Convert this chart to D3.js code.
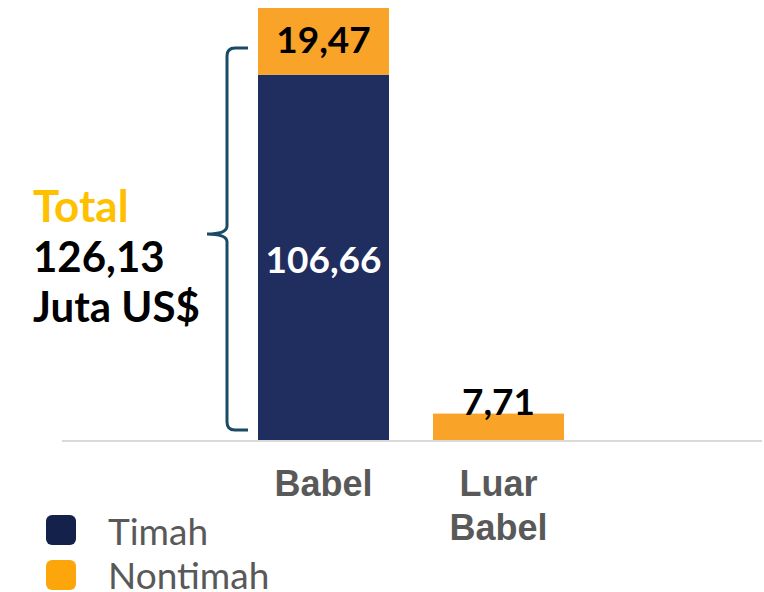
<!DOCTYPE html>
<html><head><meta charset="utf-8">
<script src="https://cdn.jsdelivr.net/npm/d3@7"></script>
<style>body{margin:0;background:#fff}svg{display:block}</style>
</head><body>
<svg id="c" width="764" height="592"></svg>
<script>
const categories = ["Babel", "Luar Babel"];
const categoryLines = [["Babel"], ["Luar", "Babel"]];
const timah = [106.66, 0];
const nontimah = [19.47, 7.71];
const timahLabels = ["106,66", ""];
const nontimahLabels = ["19,47", "7,71"];
const totalLabel = ["Total", "126,13", "Juta US$"];
const legendNames = ["Timah", "Nontimah"];

const svg = d3.select("#c");
const C = {timah: "#1f2d5f", non: "#f9a328", legTimah: "#13214b", legNon: "#fca60b"};

const x = d3.scaleBand().domain(categories).range([236, 586])
  .paddingInner(44/175).paddingOuter(22/175);
const total0 = timah[0] + nontimah[0];
const y = d3.scaleLinear().domain([0, total0]).range([440, 8]);

// baseline
svg.append("line").attr("x1", 62).attr("x2", 762).attr("y1", y(0) + 1).attr("y2", y(0) + 1)
  .attr("stroke", "#d9d9d9").attr("stroke-width", 2);

categories.forEach((c, i) => {
  const x0 = x(c), w = x.bandwidth();
  if (timah[i] > 0) {
    svg.append("rect").attr("x", x0).attr("width", w)
      .attr("y", y(timah[i])).attr("height", y(0) - y(timah[i])).attr("fill", C.timah);
  }
  svg.append("rect").attr("x", x0).attr("width", w)
    .attr("y", y(timah[i] + nontimah[i])).attr("height", y(timah[i]) - y(timah[i] + nontimah[i]))
    .attr("fill", C.non);
  if (timahLabels[i]) {
    svg.append("text").attr("x", x0 + w/2).attr("y", y(timah[i]/2) + 16)
      .attr("text-anchor", "middle").attr("font-family", "Lato").attr("font-weight", "bold")
      .attr("font-size", 37).attr("fill", "#fff").text(timahLabels[i]);
  }
  const topY = y(timah[i] + nontimah[i]);
  const inside = timah[i] > 0;
  svg.append("text").attr("x", x0 + w/2)
    .attr("y", inside ? (topY + y(timah[i]))/2 + 12 : topY + 1)
    .attr("text-anchor", "middle").attr("font-family", "Lato").attr("font-weight", "bold")
    .attr("font-size", 37).attr("fill", "#000").text(nontimahLabels[i]);
  categoryLines[i].forEach((t, k) => {
    svg.append("text").attr("x", x0 + w/2).attr("y", 496 + k*44)
      .attr("text-anchor", "middle").attr("font-family", "Liberation Sans, Arial").attr("font-weight", "bold")
      .attr("font-size", 36).attr("fill", "#595959").text(t);
  });
});

// brace
const bt = y(total0) + 40, bb = y(0) - 10, bm = (bt + bb)/2 - 5;
const xr = 248, xv = 227, xp = 207;
svg.append("path")
  .attr("d", `M${xr},${bt} L${xv+8},${bt} Q${xv},${bt} ${xv},${bt+8} L${xv},${bm-8} Q${xv},${bm} ${xp},${bm}
    Q${xv},${bm} ${xv},${bm+8} L${xv},${bb-8} Q${xv},${bb} ${xv+8},${bb} L${xr},${bb}`)
  .attr("fill", "none").attr("stroke", "#1b4a66").attr("stroke-width", 3);

// total text
totalLabel.forEach((t, k) => {
  svg.append("text").attr("x", 33).attr("y", 222 + k*50)
    .attr("font-family", "Lato").attr("font-weight", "bold").attr("font-size", k === 0 ? 44 : 42)
    .attr("fill", k === 0 ? "#ffc000" : "#000").text(t);
});

// legend
[C.legTimah, C.legNon].forEach((col, k) => {
  svg.append("rect").attr("x", 46).attr("y", 515 + k*45).attr("width", 30).attr("height", 30)
    .attr("rx", 6).attr("fill", col);
  svg.append("text").attr("x", 108).attr("y", 545 + k*44)
    .attr("font-family", "Lato").attr("font-size", 37).attr("fill", "#595959").text(legendNames[k]);
});
</script>
</body></html>
